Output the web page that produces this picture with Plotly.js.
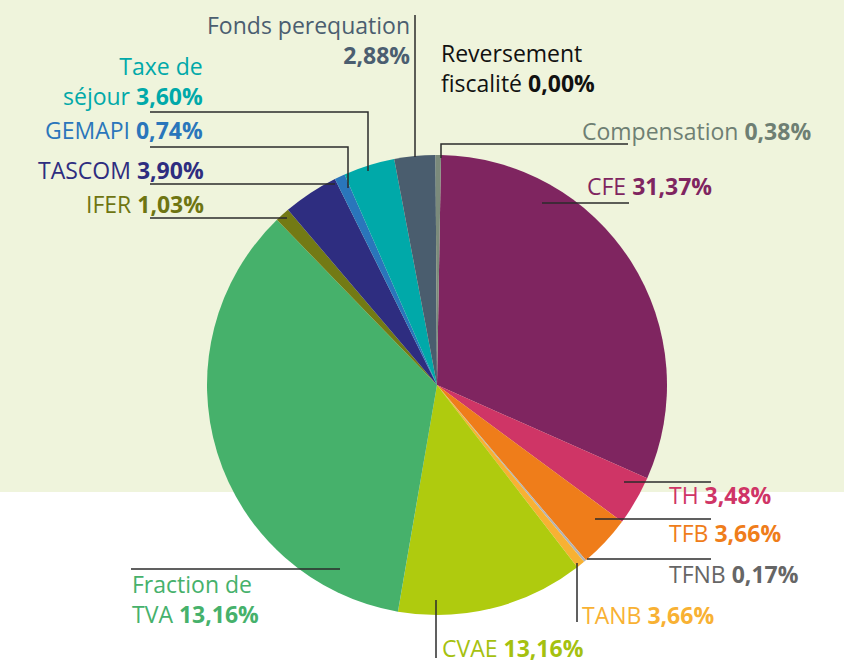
<!DOCTYPE html>
<html>
<head>
<meta charset="utf-8">
<script src="https://cdn.plot.ly/plotly-3.0.1.min.js"></script>
<style>html,body{margin:0;padding:0;background:#fff;}#chart{width:844px;height:665px;}</style>
</head>
<body>
<div id="chart"></div>
<script>
// ---- data ----
const labels = ['CFE','TH','TFB','TFNB','TANB','CVAE','Fraction de TVA','IFER','TASCOM','GEMAPI','Taxe de séjour','Fonds perequation','Reversement fiscalité','Compensation'];
const values = [31.37, 3.48, 3.66, 0.17, 0.60, 13.16, 35.03, 1.03, 3.90, 0.74, 3.60, 2.88, 0.00, 0.38];
const pctLabels = ['31,37%','3,48%','3,66%','0,17%','3,66%','13,16%','13,16%','1,03%','3,90%','0,74%','3,60%','2,88%','0,00%','0,38%'];
const nameLines = ['CFE','TH','TFB','TFNB','TANB','CVAE','Fraction de<br>TVA','IFER','TASCOM','GEMAPI','Taxe de<br>séjour','Fonds perequation<br>','Reversement<br>fiscalité','Compensation'];

// ---- styles ----
const sliceColors = ['#7f2560','#cf3566','#ef7d1a','#b4b4b4','#f8b133','#afcb0e','#46b16b','#737a14','#2e2d80','#2a76bb','#00a9a9','#4a5d6e','#111111','#7b8a7b'];
const textColors  = ['#7f2560','#cf3566','#ef7d1a','#666666','#f8b133','#a5c10f','#46b16b','#6e7512','#2e2d80','#2a76bb','#00a9a9','#4b5e70','#111111','#6e7f73'];

const W = 844, H = 665;
const px = x => x / W, py = y => 1 - y / H;

// label placement (pixels): [x, yMiddle, anchor]
const labelPos = [
  [585, 186, 'left'], [667, 495, 'left'], [667, 533, 'left'], [667, 574, 'left'],
  [580, 615, 'left'], [440, 648, 'left'], [130, 599, 'left'], [206, 204, 'right'],
  [206, 170, 'right'], [205, 130, 'right'], [205, 81, 'right'], [412, 40, 'right'],
  [439, 68, 'left'], [580, 131, 'left']
];

const annotations = labels.map((l, i) => {
  const sep = nameLines[i].endsWith('<br>') ? '' : ' ';
  return {
    xref: 'paper', yref: 'paper',
    x: px(labelPos[i][0]), y: py(labelPos[i][1]),
    xanchor: labelPos[i][2], yanchor: 'middle', align: labelPos[i][2],
    showarrow: false,
    text: nameLines[i] + sep + '<b>' + pctLabels[i] + '</b>',
    font: {family: 'Open Sans, Noto Sans, sans-serif', size: 23, color: textColors[i]}
  };
});

// leader lines (pixels)
const leaders = [
  [[415,15],[415,157]],
  [[150,112],[368,112],[368,171]],
  [[150,147],[348,147],[348,188]],
  [[150,184],[335,184]],
  [[150,218],[287,218]],
  [[441,158],[441,144],[628,144]],
  [[542,203],[629,203]],
  [[624,482],[711,482]],
  [[595,519],[711,519]],
  [[587,559],[711,559]],
  [[577,563],[577,622]],
  [[436,600],[436,658]],
  [[131,569],[340,569]]
];
const shapes = [{
  type: 'rect', xref: 'paper', yref: 'paper', layer: 'below',
  x0: 0, x1: 1, y0: py(492), y1: 1, fillcolor: '#eff4dc', line: {width: 0}
}];
leaders.forEach(pts => {
  shapes.push({
    type: 'path', xref: 'paper', yref: 'paper', layer: 'above',
    path: pts.map((p, k) => (k ? 'L' : 'M') + px(p[0]) + ',' + py(p[1])).join(' '),
    line: {color: '#2b2b2b', width: 1.5}
  });
});

const trace = {
  type: 'pie',
  labels: labels, values: values,
  sort: false, direction: 'clockwise', rotation: 1,
  textinfo: 'none', hoverinfo: 'none',
  marker: {colors: sliceColors, line: {width: 0}},
  domain: {x: [px(207), px(667)], y: [py(615), py(155)]},
  showlegend: false
};

Plotly.newPlot('chart', [trace], {
  width: W, height: H,
  margin: {l: 0, r: 0, t: 0, b: 0},
  paper_bgcolor: '#ffffff',
  showlegend: false,
  annotations: annotations,
  shapes: shapes
}, {staticPlot: true});
</script>
</body>
</html>
